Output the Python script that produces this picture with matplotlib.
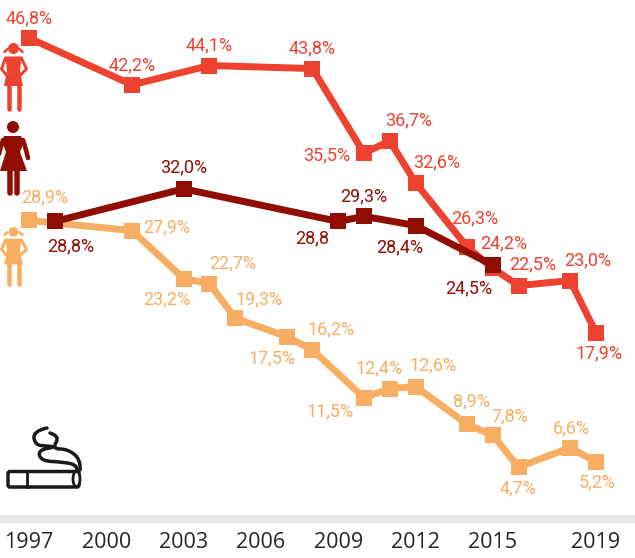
import matplotlib
matplotlib.use('Agg')
import matplotlib.pyplot as plt
from matplotlib.patches import Circle, Polygon, Ellipse, FancyBboxPatch, PathPatch
from matplotlib.path import Path

plt.rcParams['font.family'] = ['Open Sans', 'DejaVu Sans']

# anos e valores de cada serie
girls_years = [1997, 2001, 2004, 2008, 2010, 2011, 2012, 2014, 2015, 2016, 2018, 2019]
girls_values = [46.8, 42.2, 44.1, 43.8, 35.5, 36.7, 32.6, 26.3, 24.2, 22.5, 23.0, 17.9]
girls_labels = ['46,8%', '42,2%', '44,1%', '43,8%', '35,5%', '36,7%', '32,6%', '26,3%', '24,2%', '22,5%', '23,0%', '17,9%']

women_years = [1998, 2003, 2009, 2010, 2012, 2015]
women_values = [28.8, 32.0, 28.8, 29.3, 28.4, 24.5]
women_labels = ['28,8%', '32,0%', '28,8', '29,3%', '28,4%', '24,5%']

young_years = [1997, 2001, 2003, 2004, 2005, 2007, 2008, 2010, 2011, 2012, 2014, 2015, 2016, 2018, 2019]
young_values = [28.9, 27.9, 23.2, 22.7, 19.3, 17.5, 16.2, 11.5, 12.4, 12.6, 8.9, 7.8, 4.7, 6.6, 5.2]
young_labels = ['28,9%', '27,9%', '23,2%', '22,7%', '19,3%', '17,5%', '16,2%', '11,5%', '12,4%', '12,6%', '8,9%', '7,8%', '4,7%', '6,6%', '5,2%']

tick_years = [1997, 2000, 2003, 2006, 2009, 2012, 2015, 2019]

# deslocamento dos rotulos em pixels (x, y para cima)
girls_off = [(0, 20), (0, 20), (0, 20), (0, 20), (-37, -2), (19, 21), (21, 20), (8, 29), (11, 25), (14, 21), (18, 20), (3, -21)]
women_off = [(16, -25), (0, 21), (-26, -17), (0, 20), (-16, -22), (-24, -23)]
young_off = [(16, 23), (35, 3), (-17, -21), (23, 20), (24, 19), (-15, -22), (19, 20), (-34, -14), (-11, 20), (18, 21), (4, 23), (17, 19), (-1, -21), (1, 19), (1, -20)]

RED = '#ee4230'
DARK = '#900d02'
LIGHT = '#f7ae62'

fig = plt.figure(figsize=(6.35, 5.58), dpi=100)
ax = fig.add_axes([0, 1 - 519 / 558, 1, 519 / 558])
ax.set_xlim(1997 - 29 / 25.77, 1997 + (635 - 29) / 25.77)
ax.set_ylim(-0.40, 50.53)


def draw_series(years, values, labels, offs, color):
    ax.plot(years, values, color=color, lw=5, marker='s', ms=11.5, mew=0, solid_joinstyle='miter', clip_on=False)
    for x, y, lab, off in zip(years, values, labels, offs):
        ax.annotate(lab, (x, y), xytext=(off[0] * 0.72, off[1] * 0.72), textcoords='offset points',
                    ha='center', va='center', color=color, fontsize=13, family='Roboto')


draw_series(young_years, young_values, young_labels, young_off, LIGHT)
draw_series(girls_years, girls_values, girls_labels, girls_off, RED)
draw_series(women_years, women_values, women_labels, women_off, DARK)

for s in ['top', 'left', 'right']:
    ax.spines[s].set_visible(False)
ax.spines['bottom'].set_color('#e8e8e8')
ax.spines['bottom'].set_linewidth(5.8)
ax.set_yticks([])
ax.set_xticks(tick_years)
ax.set_xticklabels([str(y) for y in tick_years], fontsize=15.5, color='#262626')
ax.tick_params(axis='x', length=0, pad=9)

# icones, em coordenadas de pixel
icons = fig.add_axes([0, 0, 1, 1], zorder=-1)
icons.set_xlim(0, 635)
icons.set_ylim(558, 0)
icons.axis('off')


def limb(pts, color, w):
    xs, ys = zip(*pts)
    icons.plot(xs, ys, color=color, lw=w * 0.72, solid_capstyle='round', solid_joinstyle='round')


def girl(top, h, color):
    k = h / 62
    cx = 13.5
    icons.add_patch(Circle((cx, top + 5.5 * k), 5.5 * k, color=color, lw=0))
    limb([(cx - 6, top + 6 * k), (cx - 9, top + 9 * k)], color, 2.5)
    limb([(cx + 6, top + 6 * k), (cx + 9, top + 9 * k)], color, 2.5)
    icons.add_patch(Polygon([(cx - 8, top + 13.5 * k), (cx + 8, top + 13.5 * k), (cx + 6.5, top + 28 * k), (cx + 9.5, top + 43 * k),
                             (cx - 9.5, top + 43 * k), (cx - 6.5, top + 28 * k)], color=color, lw=0))
    limb([(cx - 8, top + 15 * k), (cx - 12, top + 26 * k), (cx - 7, top + 32 * k)], color, 3)
    limb([(cx + 8, top + 15 * k), (cx + 13, top + 26 * k), (cx + 7, top + 32 * k)], color, 3)
    limb([(cx - 5, top + 43 * k), (cx - 5, top + 66 * k)], color, 4.5)
    limb([(cx + 5, top + 43 * k), (cx + 5, top + 66 * k)], color, 4.5)


girl(43, 62, RED)
girl(227, 54, LIGHT)

# mulher
icons.add_patch(Circle((13, 127), 6, color=DARK, lw=0))
icons.add_patch(Polygon([(4, 136), (21, 136), (24, 142), (20, 152), (27, 171), (0, 171), (6, 152), (2, 142)], color=DARK, lw=0))
limb([(3, 140), (0, 150), (-2, 158)], DARK, 4.5)
limb([(23, 140), (26, 150), (28, 158)], DARK, 4.5)
limb([(9.5, 171), (9.5, 193)], DARK, 5.5)
limb([(16.5, 171), (16.5, 193)], DARK, 5.5)

# cigarro
BLACK = '#1a1a1a'
icons.add_patch(FancyBboxPatch((8, 471.5), 71, 15.5, boxstyle='round,pad=0,rounding_size=2', fc='none', ec=BLACK, lw=2.5))
icons.add_patch(Ellipse((76.5, 479), 7, 15.5, fc='white', ec=BLACK, lw=2))
icons.plot([26.5, 26.5], [471, 487], color=BLACK, lw=2)
smoke_a = [(47, 428), (33, 431), (35, 445), (47, 446), (56, 447), (38, 450), (41, 461), (63, 462), (77, 465), (77, 470)]
smoke_b = [(50, 433), (60, 436), (52, 449), (68, 449), (81, 460), (80, 470)]


def smooth(pts):
    verts = [pts[0]]
    codes = [Path.MOVETO]
    for i in range(1, len(pts) - 1):
        end = pts[i + 1] if i == len(pts) - 2 else ((pts[i][0] + pts[i + 1][0]) / 2, (pts[i][1] + pts[i + 1][1]) / 2)
        verts += [pts[i], end]
        codes += [Path.CURVE3, Path.CURVE3]
    return Path(verts, codes)


for pts in (smoke_a, smoke_b):
    icons.add_patch(PathPatch(smooth(pts), fc='none', ec=BLACK, lw=2.5, capstyle='round'))

ax.patch.set_alpha(0)
plt.savefig('out.png', dpi=100)
